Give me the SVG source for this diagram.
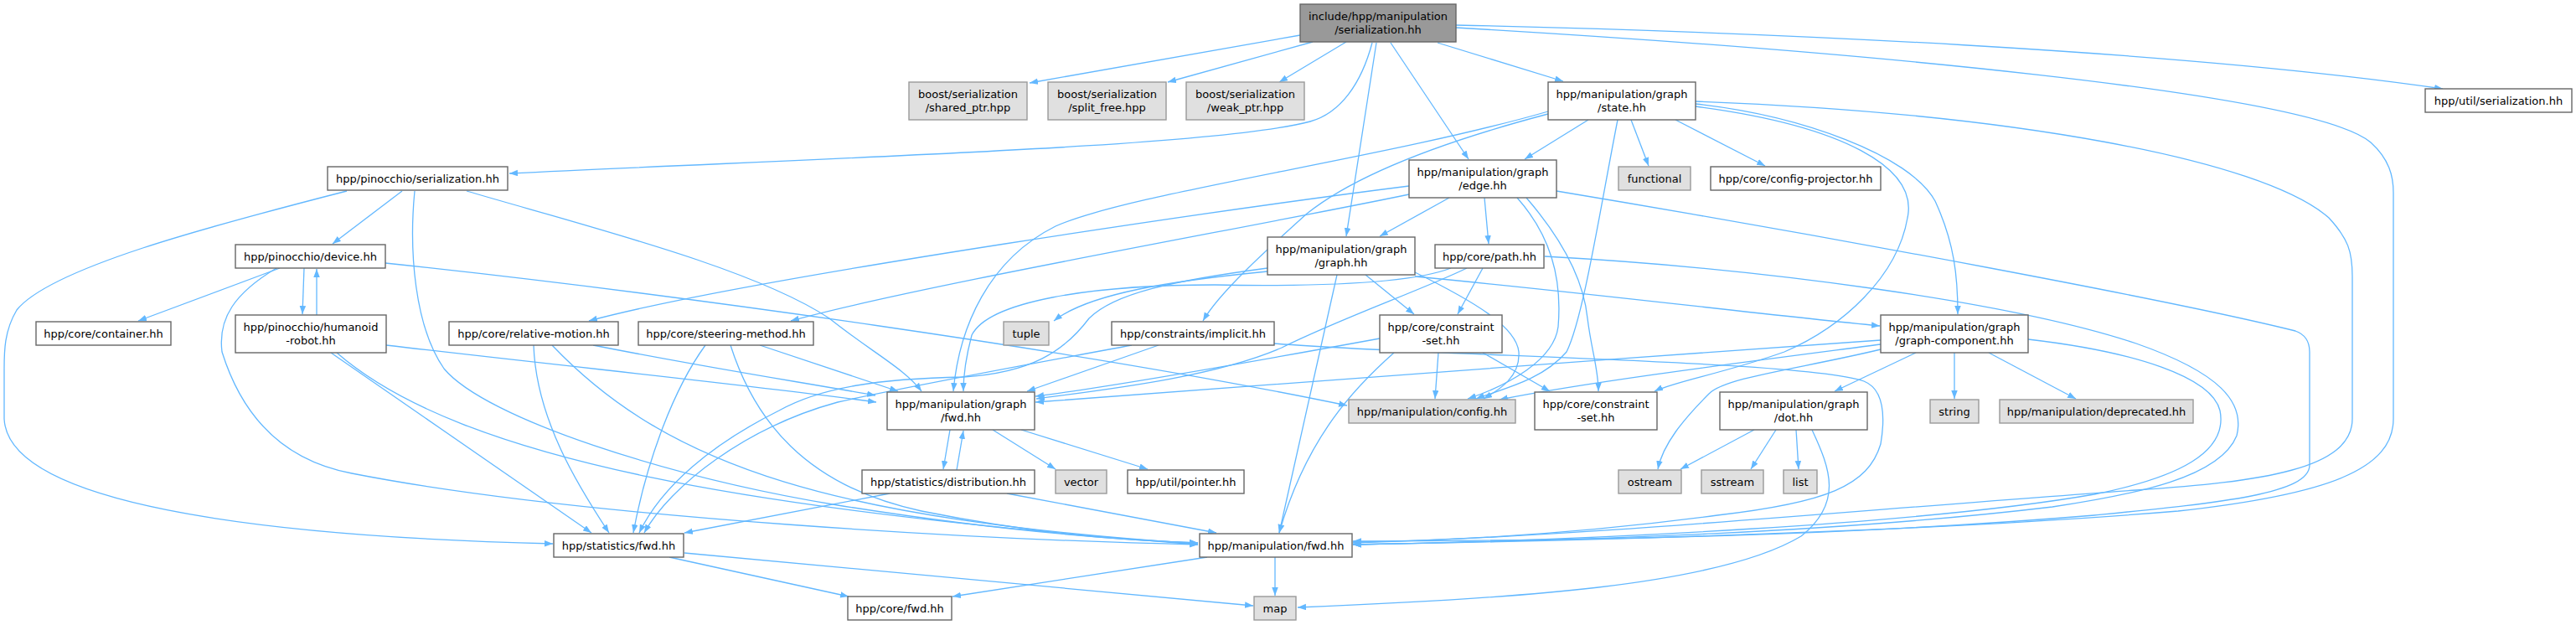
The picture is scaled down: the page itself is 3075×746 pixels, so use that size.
<svg xmlns="http://www.w3.org/2000/svg" width="3075" height="746" viewBox="0 0 3075 746">
<defs>
<marker id="a" markerUnits="userSpaceOnUse" markerWidth="11" markerHeight="8" refX="10" refY="3.75" orient="auto">
<path d="M0,0 L10,3.75 L0,7.5 z" fill="#63b8ff"/>
</marker>
<style>
.n rect{fill:#ffffff;stroke:#666666;stroke-width:1.4}
.x rect{fill:#e0e0e0;stroke:#999999;stroke-width:1.4}
.r rect{fill:#999999;stroke:#666666;stroke-width:1.4}
text{font-family:"DejaVu Sans","Liberation Sans",sans-serif;font-size:13px;fill:#000000;text-anchor:middle}
#edges path{fill:none;stroke:#63b8ff;stroke-width:1.3;marker-end:url(#a)}
</style>
</defs>
<rect width="3075" height="746" fill="#ffffff"/>
<g id="edges">
<path d="M1552,42 L1229,99"/>
<path d="M1567,50 L1394,98"/>
<path d="M1607,50 L1527,98"/>
<path d="M1638,51 C1625,100 1600,135 1564,145 C1450,175 1000,188 608,207"/>
<path d="M1643,51 L1607,282"/>
<path d="M1660,51 L1753,190"/>
<path d="M1716,51 L1866,97"/>
<path d="M1738,30 C2100,38 2600,60 2916,106"/>
<path d="M1738,33 C2200,60 2760,110 2830,170 C2852,190 2857,210 2857,230 L2857,500 C2857,560 2780,590 2600,610 C2300,635 1900,645 1615,650"/>
<path d="M1896,143 L1820,190"/>
<path d="M1947,143 L1968,198"/>
<path d="M2000,143 L2107,198"/>
<path d="M1848,133 C1650,190 1350,230 1260,270 C1180,310 1145,390 1138,467"/>
<path d="M1848,136 C1700,175 1610,215 1560,255 C1510,300 1455,350 1436,383"/>
<path d="M1931,143 C1910,250 1890,380 1870,420 C1840,455 1790,465 1762,476"/>
<path d="M2024,127 C2200,150 2290,200 2277,260 C2265,330 2200,390 2130,420 C2060,445 2000,455 1975,467"/>
<path d="M2024,124 C2150,138 2280,185 2310,240 C2333,290 2337,330 2337,375"/>
<path d="M2024,121 C2400,135 2700,190 2780,260 C2803,285 2808,300 2808,330 L2808,500 C2808,560 2700,575 2550,585 C2200,610 1900,640 1615,648"/>
<path d="M1730,236 L1647,282"/>
<path d="M1772,236 L1777,291"/>
<path d="M1811,236 C1850,280 1865,330 1860,390 C1855,430 1800,460 1752,476"/>
<path d="M1822,236 C1860,280 1890,330 1895,380 C1900,420 1908,440 1908,467"/>
<path d="M1682,222 C1500,245 900,330 703,383"/>
<path d="M1682,232 C1500,270 1100,340 944,383"/>
<path d="M1858,228 C2200,285 2600,360 2740,395 C2754,400 2757,410 2757,420 L2757,555 C2757,590 2650,600 2500,615 C2200,640 1900,645 1615,646"/>
<path d="M1513,324 C1400,335 1300,350 1258,383"/>
<path d="M1513,320 C1400,335 1330,350 1300,380 C1270,420 1230,445 1150,450 C1050,452 980,462 930,490 C850,530 790,580 763,636"/>
<path d="M1630,328 L1688,375"/>
<path d="M1689,325 C1760,360 1810,390 1813,420 C1815,450 1790,465 1771,476"/>
<path d="M1689,330 C1900,350 2100,375 2244,389"/>
<path d="M1596,328 L1527,636"/>
<path d="M1732,320 C1680,340 1560,342 1450,340 C1300,340 1180,360 1160,400 C1152,430 1150,450 1150,467"/>
<path d="M1751,320 C1700,345 1600,380 1530,415 C1450,450 1320,465 1237,476"/>
<path d="M1770,320 L1740,375"/>
<path d="M1844,306 C2100,320 2400,360 2550,410 C2650,445 2680,480 2670,520 C2650,570 2550,590 2450,605 C2200,635 1900,645 1615,650"/>
<path d="M480,228 L397,291"/>
<path d="M414,228 C250,270 60,320 20,370 C5,395 5,420 5,440 L5,500 C10,600 300,640 660,649"/>
<path d="M495,228 C488,300 495,390 530,440 C580,500 800,570 1000,603 C1200,635 1350,645 1430,648"/>
<path d="M557,228 C700,270 900,320 990,380 C1040,420 1080,440 1100,467"/>
<path d="M334,320 L165,383"/>
<path d="M363,320 L361,375"/>
<path d="M378,376 L378,321"/>
<path d="M330,320 C280,350 260,380 265,420 C290,500 340,550 420,565 C700,620 1200,645 1430,650"/>
<path d="M460,314 C800,350 1300,420 1608,484"/>
<path d="M461,412 C700,440 900,460 1046,480"/>
<path d="M395,421 L706,636"/>
<path d="M402,421 C550,550 900,610 1430,650"/>
<path d="M637,412 C640,500 690,580 727,636"/>
<path d="M659,412 C800,560 1000,620 1430,649"/>
<path d="M708,412 C850,440 950,455 1045,472"/>
<path d="M842,412 C800,470 770,560 756,636"/>
<path d="M872,412 C900,500 960,580 1100,610 C1250,640 1350,645 1430,648"/>
<path d="M907,412 L1072,467"/>
<path d="M1383,412 L1226,467"/>
<path d="M1351,412 C1200,440 1080,462 1000,480 C890,510 800,580 769,636"/>
<path d="M1521,410 C1700,425 2150,430 2225,455 C2250,465 2250,500 2245,530 C2230,580 2180,600 2050,615 C1900,635 1750,645 1615,647"/>
<path d="M1717,421 L1713,476"/>
<path d="M1770,421 L1850,467"/>
<path d="M1647,404 C1450,440 1300,465 1236,473"/>
<path d="M1664,421 C1620,460 1560,520 1527,636"/>
<path d="M2287,421 L2190,467"/>
<path d="M2333,421 L2333,476"/>
<path d="M2374,421 L2478,476"/>
<path d="M2245,406 C1900,430 1500,460 1236,480"/>
<path d="M2245,411 C2100,430 1900,455 1790,477"/>
<path d="M2245,417 C2150,440 2060,450 2040,470 C2010,500 1985,530 1979,560"/>
<path d="M2421,405 C2550,420 2640,450 2650,490 C2660,540 2600,570 2500,590 C2300,625 1900,645 1615,650"/>
<path d="M2094,513 L2006,560"/>
<path d="M2120,513 L2090,560"/>
<path d="M2144,513 L2147,560"/>
<path d="M2163,513 C2185,560 2200,600 2150,640 C2050,700 1800,715 1549,725"/>
<path d="M1134,513 L1126,560"/>
<path d="M1142,561 L1150,514"/>
<path d="M1185,513 L1260,560"/>
<path d="M1219,513 L1370,560"/>
<path d="M1062,589 L817,636"/>
<path d="M1202,589 L1452,636"/>
<path d="M799,665 L1013,712"/>
<path d="M817,660 L1496,723"/>
<path d="M1441,665 L1137,712"/>
<path d="M1522,665 L1522,711"/>
</g>
<g id="root" class="r"><rect x="1552" y="5" width="186" height="45"/><text x="1645" y="23.5">include/hpp/manipulation</text><text x="1645" y="39.5">/serialization.hh</text></g>
<g id="shared_ptr" class="x"><rect x="1085" y="98" width="141" height="45"/><text x="1155.5" y="116.5">boost/serialization</text><text x="1155.5" y="132.5">/shared_ptr.hpp</text></g>
<g id="split_free" class="x"><rect x="1251" y="98" width="141" height="45"/><text x="1321.5" y="116.5">boost/serialization</text><text x="1321.5" y="132.5">/split_free.hpp</text></g>
<g id="weak_ptr" class="x"><rect x="1416" y="98" width="141" height="45"/><text x="1486.5" y="116.5">boost/serialization</text><text x="1486.5" y="132.5">/weak_ptr.hpp</text></g>
<g id="state" class="n"><rect x="1848" y="98" width="176" height="45"/><text x="1936" y="116.5">hpp/manipulation/graph</text><text x="1936" y="132.5">/state.hh</text></g>
<g id="util_serialization" class="n"><rect x="2895" y="106" width="175" height="28"/><text x="2982.5" y="124.5">hpp/util/serialization.hh</text></g>
<g id="pinocchio_serialization" class="n"><rect x="391" y="199" width="215" height="28"/><text x="498.5" y="217.5">hpp/pinocchio/serialization.hh</text></g>
<g id="edge" class="n"><rect x="1682" y="191" width="176" height="45"/><text x="1770" y="209.5">hpp/manipulation/graph</text><text x="1770" y="225.5">/edge.hh</text></g>
<g id="functional" class="x"><rect x="1932" y="199" width="86" height="28"/><text x="1975" y="217.5">functional</text></g>
<g id="config_projector" class="n"><rect x="2042" y="199" width="203" height="28"/><text x="2143.5" y="217.5">hpp/core/config-projector.hh</text></g>
<g id="device" class="n"><rect x="281" y="292" width="179" height="28"/><text x="370.5" y="310.5">hpp/pinocchio/device.hh</text></g>
<g id="graph" class="n"><rect x="1513" y="283" width="176" height="45"/><text x="1601" y="301.5">hpp/manipulation/graph</text><text x="1601" y="317.5">/graph.hh</text></g>
<g id="path" class="n"><rect x="1713" y="292" width="130" height="28"/><text x="1778" y="310.5">hpp/core/path.hh</text></g>
<g id="container" class="n"><rect x="43" y="384" width="161" height="28"/><text x="123.5" y="402.5">hpp/core/container.hh</text></g>
<g id="humanoid" class="n"><rect x="281" y="376" width="180" height="45"/><text x="371" y="394.5">hpp/pinocchio/humanoid</text><text x="371" y="410.5">-robot.hh</text></g>
<g id="relative_motion" class="n"><rect x="536" y="384" width="202" height="28"/><text x="637" y="402.5">hpp/core/relative-motion.hh</text></g>
<g id="steering_method" class="n"><rect x="762" y="384" width="209" height="28"/><text x="866.5" y="402.5">hpp/core/steering-method.hh</text></g>
<g id="tuple" class="x"><rect x="1198" y="384" width="54" height="28"/><text x="1225" y="402.5">tuple</text></g>
<g id="implicit" class="n"><rect x="1327" y="384" width="194" height="28"/><text x="1424" y="402.5">hpp/constraints/implicit.hh</text></g>
<g id="constraint_set_1" class="n"><rect x="1647" y="376" width="146" height="45"/><text x="1720" y="394.5">hpp/core/constraint</text><text x="1720" y="410.5">-set.hh</text></g>
<g id="graph_component" class="n"><rect x="2245" y="376" width="176" height="45"/><text x="2333" y="394.5">hpp/manipulation/graph</text><text x="2333" y="410.5">/graph-component.hh</text></g>
<g id="graph_fwd" class="n"><rect x="1059" y="468" width="176" height="45"/><text x="1147" y="486.5">hpp/manipulation/graph</text><text x="1147" y="502.5">/fwd.hh</text></g>
<g id="config" class="x"><rect x="1610" y="477" width="199" height="28"/><text x="1709.5" y="495.5">hpp/manipulation/config.hh</text></g>
<g id="constraint_set_2" class="n"><rect x="1832" y="468" width="146" height="45"/><text x="1905" y="486.5">hpp/core/constraint</text><text x="1905" y="502.5">-set.hh</text></g>
<g id="dot" class="n"><rect x="2053" y="468" width="176" height="45"/><text x="2141" y="486.5">hpp/manipulation/graph</text><text x="2141" y="502.5">/dot.hh</text></g>
<g id="string" class="x"><rect x="2304" y="477" width="58" height="28"/><text x="2333" y="495.5">string</text></g>
<g id="deprecated" class="x"><rect x="2387" y="477" width="231" height="28"/><text x="2502.5" y="495.5">hpp/manipulation/deprecated.hh</text></g>
<g id="distribution" class="n"><rect x="1029" y="561" width="206" height="28"/><text x="1132" y="579.5">hpp/statistics/distribution.hh</text></g>
<g id="vector" class="x"><rect x="1260" y="561" width="61" height="28"/><text x="1290.5" y="579.5">vector</text></g>
<g id="pointer" class="n"><rect x="1346" y="561" width="139" height="28"/><text x="1415.5" y="579.5">hpp/util/pointer.hh</text></g>
<g id="ostream" class="x"><rect x="1932" y="561" width="75" height="28"/><text x="1969.5" y="579.5">ostream</text></g>
<g id="sstream" class="x"><rect x="2031" y="561" width="74" height="28"/><text x="2068" y="579.5">sstream</text></g>
<g id="list" class="x"><rect x="2129" y="561" width="40" height="28"/><text x="2149" y="579.5">list</text></g>
<g id="statistics_fwd" class="n"><rect x="661" y="637" width="155" height="28"/><text x="738.5" y="655.5">hpp/statistics/fwd.hh</text></g>
<g id="manipulation_fwd" class="n"><rect x="1432" y="637" width="182" height="28"/><text x="1523" y="655.5">hpp/manipulation/fwd.hh</text></g>
<g id="core_fwd" class="n"><rect x="1012" y="712" width="124" height="28"/><text x="1074" y="730.5">hpp/core/fwd.hh</text></g>
<g id="map" class="x"><rect x="1497" y="712" width="50" height="28"/><text x="1522" y="730.5">map</text></g>
</svg>
